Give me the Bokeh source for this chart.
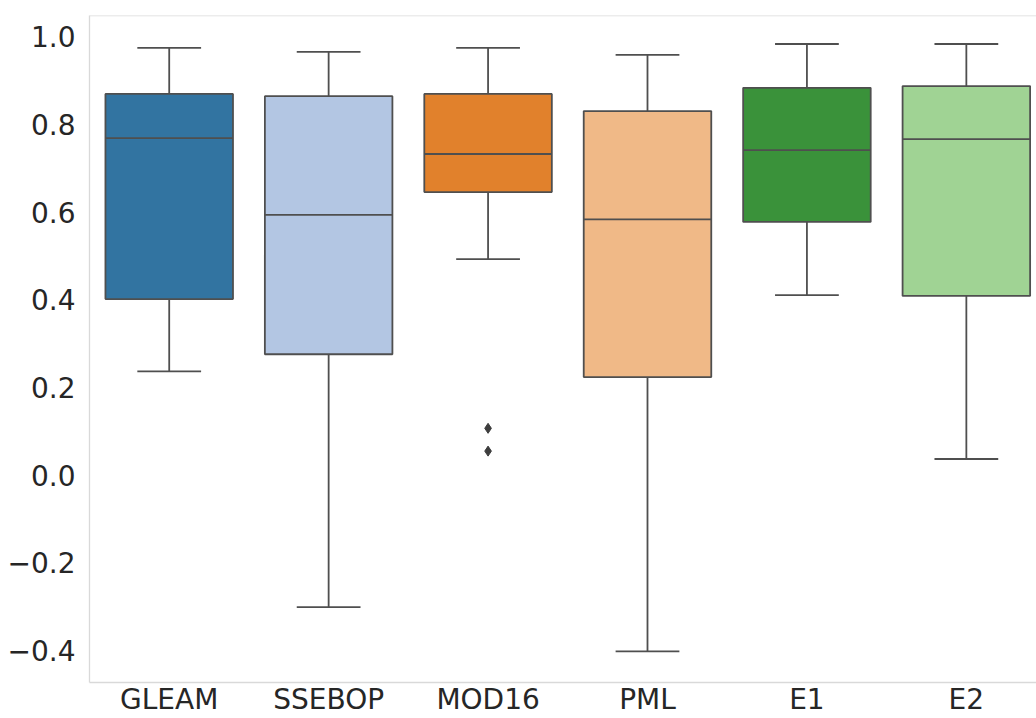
from bokeh.plotting import figure
from bokeh.models import (ColumnDataSource, FixedTicker, LinearAxis, Range1d,
                          CustomJSTickFormatter, Span)
from bokeh.transform import dodge
from bokeh.embed import file_html
from bokeh.resources import INLINE

# ---- data ----
categories = ["GLEAM", "SSEBOP", "MOD16", "PML", "E1", "E2"]
whisker_low = [0.237, -0.301, 0.493, -0.402, 0.411, 0.037]
q1 = [0.402, 0.276, 0.646, 0.224, 0.578, 0.409]
median = [0.769, 0.594, 0.733, 0.584, 0.742, 0.767]
q3 = [0.870, 0.865, 0.870, 0.831, 0.884, 0.888]
whisker_high = [0.975, 0.966, 0.975, 0.959, 0.984, 0.984]
colors = ["#3274a1", "#b3c6e3", "#e1812c", "#f0b987", "#3a923a", "#a0d394"]
outlier_cat = ["MOD16", "MOD16"]
outlier_val = [0.107, 0.055]
y_ticks = [-0.4, -0.2, 0.0, 0.2, 0.4, 0.6, 0.8, 1.0]

xpos = list(range(len(categories)))
src = ColumnDataSource(dict(x=xpos, cat=categories, lo=whisker_low, q1=q1,
                            med=median, q3=q3, hi=whisker_high, color=colors))
osrc = ColumnDataSource(dict(x=[categories.index(c) for c in outlier_cat], y=outlier_val))

LINE = "#4f4f4f"
GRID = "#d9d9d9"
TXT = "#262626"
FONT = "DejaVu Sans"

y_start, y_end = -0.473, 1.049
p = figure(width=1036, height=718, output_backend="svg", toolbar_location=None,
           x_range=Range1d(-0.5, 5.44), y_range=Range1d(y_start, y_end),
           x_axis_type=None, y_axis_type=None,
           min_border_left=89, min_border_top=15, min_border_bottom=35, min_border_right=0)
p.outline_line_color = None
p.background_fill_color = "white"

xaxis = LinearAxis(ticker=FixedTicker(ticks=xpos),
                   major_label_overrides={i: c for i, c in enumerate(categories)})
yaxis = LinearAxis(ticker=FixedTicker(ticks=y_ticks),
                   formatter=CustomJSTickFormatter(code="return tick.toFixed(1).replace('-', '\u2212');"))
for ax in (xaxis, yaxis):
    ax.axis_line_color = GRID
    ax.axis_line_width = 1.3
    ax.major_tick_line_color = None
    ax.minor_tick_line_color = None
    ax.major_tick_out = 0
    ax.major_tick_in = 0
    ax.major_label_text_font = FONT
    ax.major_label_text_font_size = "28px"
    ax.major_label_text_color = TXT
xaxis.major_label_standoff = 0
yaxis.major_label_standoff = 14
p.add_layout(xaxis, "below")
p.add_layout(yaxis, "left")

p.ygrid.ticker = FixedTicker(ticks=y_ticks)
p.ygrid.grid_line_color = GRID
p.ygrid.grid_line_width = 1.3
p.xgrid.visible = False
p.add_layout(Span(location=y_end, dimension="width", line_color=GRID, line_width=1.3))

# whiskers
p.segment(x0="x", y0="q3", x1="x", y1="hi", source=src, line_color=LINE, line_width=1.8)
p.segment(x0="x", y0="q1", x1="x", y1="lo", source=src, line_color=LINE, line_width=1.8)
p.segment(x0=dodge("x", -0.2), y0="hi", x1=dodge("x", 0.2), y1="hi", source=src,
          line_color=LINE, line_width=1.8)
p.segment(x0=dodge("x", -0.2), y0="lo", x1=dodge("x", 0.2), y1="lo", source=src,
          line_color=LINE, line_width=1.8)
# boxes
p.vbar(x="x", bottom="q1", top="q3", width=0.8, source=src, fill_color="color",
       line_color=LINE, line_width=1.8)
# medians
p.segment(x0=dodge("x", -0.4), y0="med", x1=dodge("x", 0.4), y1="med", source=src,
          line_color=LINE, line_width=1.8)
# outliers
p.scatter(x="x", y="y", source=osrc, marker="diamond", size=10,
          fill_color="#3d3d3d", line_color="#3d3d3d")

open("out.html", "w").write(file_html(p, INLINE))
